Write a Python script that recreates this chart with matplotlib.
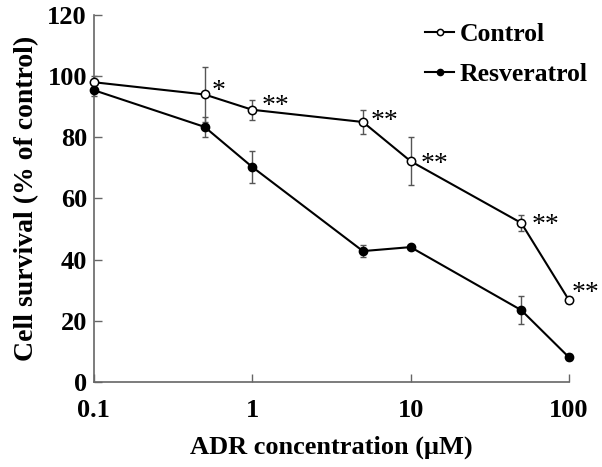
import numpy as np
import matplotlib
matplotlib.use("Agg")
import matplotlib.pyplot as plt

plt.rcParams['font.family'] = ['Liberation Serif', 'DejaVu Serif']

conc = [0.1, 0.5, 1, 5, 10, 50, 100]
control = [98, 94, 89, 85, 72.2, 52, 26.8]
control_err = [2, 9, 3.2, 4, 7.8, 2.7, 1]
resv = [95.4, 83.4, 70.3, 42.8, 44.1, 23.5, 8.1]
resv_err = [2, 3.2, 5.2, 2, 0.5, 4.7, 1]
stars = ["", "*", "**", "**", "**", "**", "**"]
# label offsets in pixels (dx, dy) from each point
star_off = [(0, 0), (7, 3), (9, 3), (8, 1), (10, -3), (10, -3), (3, 7)]

fig = plt.figure(figsize=(6.02, 4.67), dpi=100)
ax = fig.add_axes([0.156, 0.182, 0.789, 0.786])

ax.errorbar(conc, control, yerr=control_err, fmt='none', ecolor='#555555',
            elinewidth=1, capsize=2.5, capthick=1, zorder=1, clip_on=False)
ax.errorbar(conc, resv, yerr=resv_err, fmt='none', ecolor='#555555',
            elinewidth=1, capsize=2.5, capthick=1, zorder=1, clip_on=False)
ax.plot(conc, control, '-o', color='black', mfc='white', mec='black',
        ms=6, mew=1.1, lw=1.5, label='Control', zorder=3, clip_on=False)
ax.plot(conc, resv, '-o', color='black', mfc='black', mec='black',
        ms=6, lw=1.5, label='Resveratrol', zorder=3, clip_on=False)

for x, y, s, (dx, dy) in zip(conc, control, stars, star_off):
    if s:
        ax.annotate(s, (x, y), xytext=(dx, dy), textcoords='offset pixels',
                    fontsize=20, ha='left', va='center')

ax.set_xscale('log')
ax.set_xlim(0.1, 100)
ax.set_ylim(0, 120)
ax.set_xticks([0.1, 1, 10, 100])
ax.set_xticklabels(['0.1', '1', '10', '100'])
ax.minorticks_off()
ax.set_yticks(np.arange(0, 121, 20))

for sp in ['top', 'right']:
    ax.spines[sp].set_visible(False)
for sp in ['left', 'bottom']:
    ax.spines[sp].set_color('#666666')
    ax.spines[sp].set_linewidth(1.2)

ax.tick_params(direction='in', length=6, width=1, color='#666666', labelsize=19)
ax.tick_params(axis='x', pad=12)
ax.tick_params(axis='y', pad=5)
for lab in ax.get_xticklabels() + ax.get_yticklabels():
    lab.set_fontweight('bold')

ax.set_xlabel('ADR concentration (μM)', fontsize=19, fontweight='bold', labelpad=10)
ax.set_ylabel('Cell survival (% of control)', fontsize=20, fontweight='bold', labelpad=6)

leg = ax.legend(loc='upper left', bbox_to_anchor=(0.6886, 0.972),
                bbox_transform=fig.transFigure, frameon=False,
                prop={'size': 18.5, 'weight': 'bold'}, handlelength=1.15,
                handletextpad=0.2, labelspacing=0.65, markerscale=0.75,
                borderaxespad=0)

fig.savefig('out.png', dpi=100)
